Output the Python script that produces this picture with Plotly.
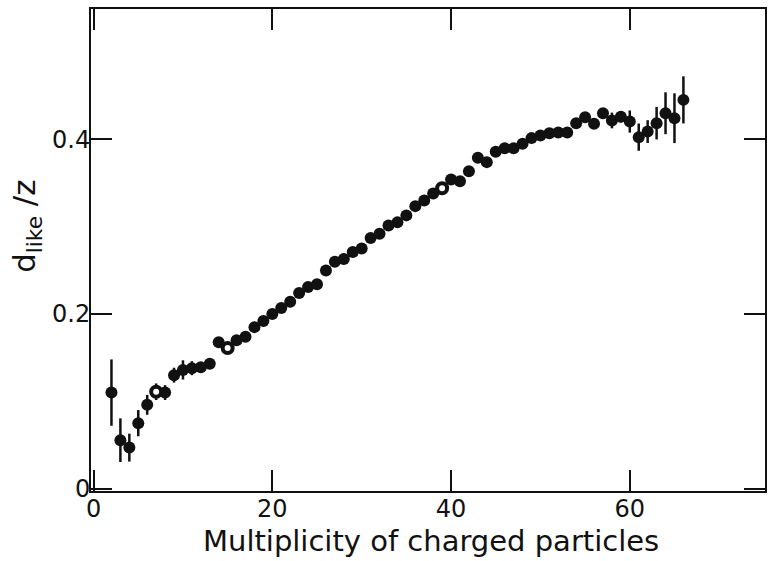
import plotly.graph_objects as go

# Multiplicity of charged particles (x) and d_like/z (y) with errors
multiplicity = list(range(2, 67))
dlike_z = [
    0.110, 0.0555, 0.047, 0.075, 0.096, 0.111, 0.110, 0.130, 0.136, 0.138,
    0.139, 0.143, 0.1676, 0.161, 0.170, 0.174, 0.185, 0.192, 0.200, 0.207,
    0.214, 0.224, 0.231, 0.234, 0.250, 0.260, 0.263, 0.271, 0.275, 0.287,
    0.292, 0.3015, 0.305, 0.313, 0.3236, 0.330, 0.338, 0.344, 0.354, 0.352,
    0.3635, 0.379, 0.374, 0.386, 0.390, 0.390, 0.395, 0.4015, 0.4046, 0.407,
    0.408, 0.408, 0.4186, 0.4255, 0.418, 0.430, 0.4217, 0.426, 0.4205, 0.4026,
    0.409, 0.4186, 0.430, 0.4243, 0.4453,
]
errors = [
    0.038, 0.025, 0.016, 0.015, 0.0114, 0.0095, 0.0085, 0.0085, 0.011, 0.008,
    0.006, 0.006, 0.004, 0.004, 0.004, 0.004, 0.004, 0.004, 0.004, 0.004,
    0.004, 0.004, 0.004, 0.004, 0.004, 0.004, 0.004, 0.004, 0.004, 0.004,
    0.004, 0.004, 0.004, 0.004, 0.004, 0.004, 0.004, 0.004, 0.004, 0.004,
    0.004, 0.004, 0.004, 0.004, 0.004, 0.004, 0.004, 0.004, 0.004, 0.004,
    0.004, 0.004, 0.005, 0.005, 0.006, 0.006, 0.009, 0.0065, 0.0127, 0.0156,
    0.013, 0.0186, 0.024, 0.0285, 0.027,
]
open_points = [7, 15, 39]

x_ticks = [0, 20, 40, 60]
x_tick_labels = ["0", "20", "40", "60"]
y_ticks = [0, 0.2, 0.4]
y_tick_labels = ["0", "0.2", "0.4"]

FONT = "DejaVu Sans"
BLACK = "#111111"

filled_x = [m for m in multiplicity if m not in open_points]
filled_y = [v for m, v in zip(multiplicity, dlike_z) if m not in open_points]
filled_e = [e for m, e in zip(multiplicity, errors) if m not in open_points]
open_x = [m for m in multiplicity if m in open_points]
open_y = [v for m, v in zip(multiplicity, dlike_z) if m in open_points]
open_e = [e for m, e in zip(multiplicity, errors) if m in open_points]

fig = go.Figure()
fig.add_trace(go.Scatter(
    x=filled_x, y=filled_y, mode="markers",
    marker=dict(symbol="circle", size=12, color=BLACK, line=dict(width=0)),
    error_y=dict(type="data", array=filled_e, visible=True, color=BLACK,
                 thickness=2.5, width=0),
    showlegend=False,
))
fig.add_trace(go.Scatter(
    x=open_x, y=open_y, mode="markers",
    marker=dict(symbol="circle", size=10, color="white",
                line=dict(width=4, color=BLACK)),
    error_y=dict(type="data", array=open_e, visible=True, color=BLACK,
                 thickness=2.5, width=0),
    showlegend=False,
))

axis_common = dict(
    showgrid=False, zeroline=False, showline=True, linewidth=2,
    linecolor=BLACK, mirror="ticks", ticks="inside", ticklen=21,
    tickwidth=2, tickcolor=BLACK,
    tickfont=dict(family=FONT, size=24, color=BLACK),
)

fig.update_layout(
    width=774, height=561,
    margin=dict(l=91, r=8, t=7, b=70),
    paper_bgcolor="white", plot_bgcolor="white",
    xaxis=dict(range=[-0.29, 75.13], tickvals=x_ticks, ticktext=x_tick_labels,
               ticklabelstandoff=-5, **axis_common),
    yaxis=dict(range=[-0.0027, 0.5494], tickvals=y_ticks,
               ticktext=y_tick_labels, ticklabelstandoff=-6, **axis_common),
    annotations=[
        dict(text="Multiplicity of charged particles", xref="paper",
             yref="paper", x=0.504, y=-0.066, xanchor="center",
             yanchor="top", showarrow=False, borderpad=0,
             font=dict(family=FONT, size=29, color=BLACK)),
        dict(text="d<sub>like</sub> /z", xref="paper", yref="paper",
             x=-0.095, y=0.55, xanchor="center", yanchor="middle",
             textangle=-90, showarrow=False,
             font=dict(family=FONT, size=31, color=BLACK)),
    ],
)

fig.write_html("out.html")
